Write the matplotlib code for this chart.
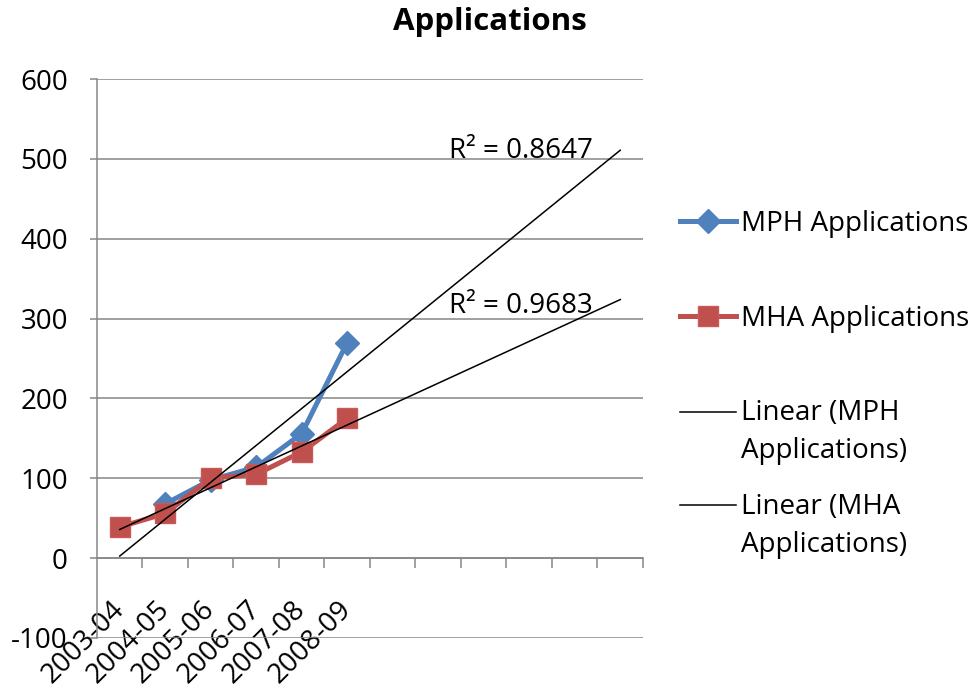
import numpy as np
import matplotlib
matplotlib.use("Agg")
import matplotlib.pyplot as plt
from matplotlib.ticker import MultipleLocator, FixedLocator
from matplotlib.transforms import ScaledTranslation
from matplotlib.legend_handler import HandlerLine2D

plt.rcParams['font.family'] = ['Open Sans', 'DejaVu Sans']
plt.rcParams['axes.unicode_minus'] = False

# data
years = ['2003-04', '2004-05', '2005-06', '2006-07', '2007-08', '2008-09']
mph_apps = [np.nan, 68, 98, 114, 156, 270]
mha_apps = [39, 56, 100, 105, 133, 175]
r2_labels = ['R\u00b2 = 0.8647', 'R\u00b2 = 0.9683']
forecast_periods = 6

blue = '#4F81BD'
red = '#C0504D'
grey = '#868686'
fs = 20


class TopLineHandler(HandlerLine2D):
    # legend line next to the first line of a two-line label, like Excel
    def __init__(self, shift, **kw):
        super().__init__(**kw)
        self.shift = shift

    def create_artists(self, legend, orig_handle, xdescent, ydescent, width, height, fontsize, trans):
        arts = super().create_artists(legend, orig_handle, xdescent, ydescent, width, height, fontsize, trans)
        for a in arts:
            a.set_ydata(np.asarray(a.get_ydata()) + self.shift)
        return arts


x = np.arange(1, len(years) + 1)
n_total = len(years) + forecast_periods

fig = plt.figure(figsize=(9.77, 6.88), dpi=100)
ax = fig.add_axes([97 / 977, 1 - 638 / 688, 546 / 977, 559 / 688])

ax.plot(x, mph_apps, color=blue, lw=3.6, marker='D', markersize=12,
        markerfacecolor=blue, markeredgecolor=blue, label='MPH Applications', zorder=3)
ax.plot(x, mha_apps, color=red, lw=3.6, marker='s', markersize=14,
        markerfacecolor=red, markeredgecolor='#c85a57', label='MHA Applications', zorder=4)

# linear trendlines, forward forecast like Excel
xt = np.array([1, n_total])
for series, name in [(mph_apps, 'MPH'), (mha_apps, 'MHA')]:
    arr = np.array(series, dtype=float)
    ok = ~np.isnan(arr)
    slope, icpt = np.polyfit(x[ok], arr[ok], 1)
    ax.plot(xt, slope * xt + icpt, color='black', lw=1.1,
            label='Linear (' + name + '\nApplications)', zorder=5)

ax.text(11.4, 501, r2_labels[0], fontsize=fs, ha='right', va='baseline')
ax.text(11.4, 307, r2_labels[1], fontsize=fs, ha='right', va='baseline')

ax.set_xlim(0.5, n_total + 0.5)
ax.set_ylim(-100, 600)
ax.yaxis.set_major_locator(MultipleLocator(100))
ax.grid(axis='y', color=grey, lw=1.1)
ax.set_axisbelow(True)

for s in ['top', 'right']:
    ax.spines[s].set_visible(False)
ax.spines['left'].set_color(grey)
ax.spines['left'].set_linewidth(1.1)
ax.spines['bottom'].set_position(('data', 0))
ax.spines['bottom'].set_color(grey)
ax.spines['bottom'].set_linewidth(1.1)

ax.set_xticks(x)
ax.set_xticklabels(years, rotation=45, ha='right', va='top', fontsize=fs)
ax.xaxis.set_minor_locator(FixedLocator(np.arange(1.5, n_total + 1, 1)))
ax.tick_params(axis='x', which='major', length=0, pad=27)
ax.tick_params(axis='x', which='minor', length=7, width=1.1, color=grey, direction='out')
ax.tick_params(axis='y', length=5, width=1.1, color=grey, labelsize=fs, pad=16)
offset = ScaledTranslation(10 / 100, 0, fig.dpi_scale_trans)
for lab in ax.get_xticklabels():
    lab.set_transform(lab.get_transform() + offset)

fig.text(490 / 977, 1 - 22 / 688, 'Applications', fontsize=22.5, fontweight='bold',
         ha='center', va='center')

h, l = ax.get_legend_handles_labels()
leg1 = fig.legend(h[:2], l[:2], loc='center left', bbox_to_anchor=(680 / 977, 1 - 271.5 / 688),
                  frameon=False, fontsize=fs, borderpad=0, borderaxespad=0,
                  handlelength=2.0, handletextpad=0.2, labelspacing=2.4)
leg2 = fig.legend(h[2:], l[2:], loc='center left', bbox_to_anchor=(680 / 977, 1 - 479 / 688),
                  frameon=False, fontsize=fs, borderpad=0, borderaxespad=0,
                  handlelength=2.0, handletextpad=0.2, labelspacing=0.98,
                  handler_map={h[2]: TopLineHandler(15.5), h[3]: TopLineHandler(15.5)})
for t in leg2.get_texts():
    t.set_linespacing(1.48)

fig.savefig('out.png', dpi=100)
